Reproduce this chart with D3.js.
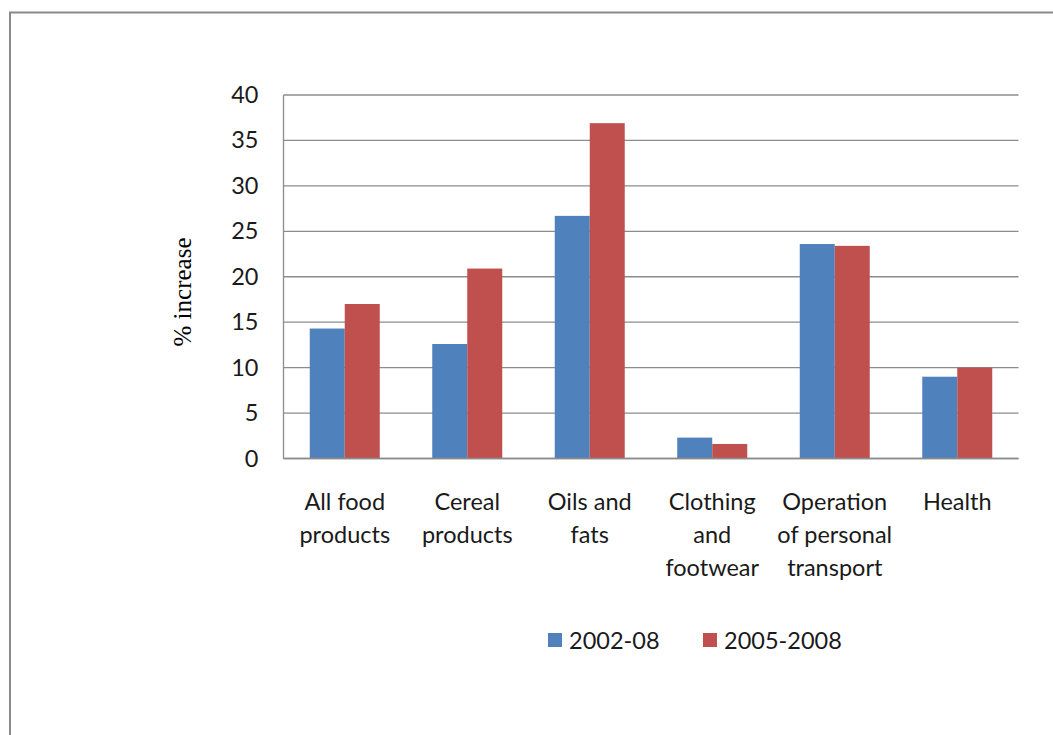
<!DOCTYPE html>
<html>
<head>
<meta charset="utf-8">
<script src="https://cdn.jsdelivr.net/npm/d3@7"></script>
<style>
  html, body { margin: 0; padding: 0; background: #fff; }
  svg { display: block; }
</style>
</head>
<body>
<svg id="chart" width="1053" height="735"></svg>
<script>
// Percentage price increase by expenditure group
const categories = [
  ["All food", "products"],
  ["Cereal", "products"],
  ["Oils and", "fats"],
  ["Clothing", "and", "footwear"],
  ["Operation", "of personal", "transport"],
  ["Health"]
];
const seriesNames = ["2002-08", "2005-2008"];
const values2002to08 = [14.3, 12.6, 26.7, 2.3, 23.6, 9.0];
const values2005to08 = [17.0, 20.9, 36.9, 1.6, 23.4, 10.0];
const yTicks = [0, 5, 10, 15, 20, 25, 30, 35, 40];
const colors = ["#4f81bd", "#c0504d"];

const svg = d3.select("#chart");
const font = "Lato, 'Open Sans', sans-serif";
const fontSize = 23.5;

// Outer frame (top and left edges)
svg.append("path")
  .attr("d", "M10,735 L10,12.5 L1053,12.5")
  .attr("fill", "none")
  .attr("stroke", "#8a8a8a")
  .attr("stroke-width", 2);

const plot = { left: 283.5, right: 1018.5, top: 95, bottom: 458.5 };

const x = d3.scaleBand()
  .domain(d3.range(categories.length))
  .range([plot.left, plot.right])
  .paddingInner(0)
  .paddingOuter(0);

const groupWidth = x.bandwidth();
const barWidth = groupWidth / 3.5;

const y = d3.scaleLinear().domain([0, 40]).range([plot.bottom, plot.top]);

// Gridlines
svg.append("g")
  .selectAll("line")
  .data(yTicks)
  .join("line")
  .attr("x1", plot.left)
  .attr("x2", plot.right)
  .attr("y1", d => y(d))
  .attr("y2", d => y(d))
  .attr("stroke", "#8c8c8c")
  .attr("stroke-width", 1.3);

// Left axis line
svg.append("line")
  .attr("x1", plot.left).attr("x2", plot.left)
  .attr("y1", plot.top).attr("y2", plot.bottom)
  .attr("stroke", "#8c8c8c").attr("stroke-width", 1.3);

// Y tick labels via d3 axis
const yAxis = d3.axisLeft(y).tickValues(yTicks).tickSize(0).tickPadding(25);
const yg = svg.append("g").attr("transform", `translate(${plot.left},0)`).call(yAxis);
yg.select(".domain").remove();
yg.selectAll("text")
  .attr("font-family", font)
  .attr("font-size", fontSize)
  .attr("fill", "#1a1a1a");

// Bars
const allSeries = [values2002to08, values2005to08];
allSeries.forEach((vals, si) => {
  svg.append("g")
    .selectAll("rect")
    .data(vals)
    .join("rect")
    .attr("x", (d, i) => x(i) + barWidth * 0.75 + si * barWidth)
    .attr("y", d => y(d))
    .attr("width", barWidth)
    .attr("height", d => y(0) - y(d))
    .attr("fill", colors[si]);
});

// Bottom axis line
svg.append("line")
  .attr("x1", plot.left).attr("x2", plot.right)
  .attr("y1", plot.bottom).attr("y2", plot.bottom)
  .attr("stroke", "#8c8c8c").attr("stroke-width", 1.5);

// Category labels
const catG = svg.append("g");
categories.forEach((lines, i) => {
  const t = catG.append("text")
    .attr("x", x(i) + groupWidth / 2)
    .attr("y", 510)
    .attr("text-anchor", "middle")
    .attr("font-family", font)
    .attr("font-size", fontSize)
    .attr("fill", "#1a1a1a");
  lines.forEach((ln, j) => {
    t.append("tspan")
      .attr("x", x(i) + groupWidth / 2)
      .attr("dy", j === 0 ? 0 : 33)
      .text(ln);
  });
});

// Y axis title
svg.append("text")
  .attr("transform", "translate(191,292) rotate(-90)")
  .attr("text-anchor", "middle")
  .attr("font-family", "'Liberation Serif', 'DejaVu Serif', serif")
  .attr("font-size", 25)
  .attr("fill", "#000")
  .text("% increase");

// Legend
const legend = [
  { name: seriesNames[0], color: colors[0], x: 548 },
  { name: seriesNames[1], color: colors[1], x: 703 }
];
const lg = svg.append("g");
legend.forEach(d => {
  lg.append("rect")
    .attr("x", d.x).attr("y", 633)
    .attr("width", 14).attr("height", 14)
    .attr("fill", d.color);
  lg.append("text")
    .attr("x", d.x + 21).attr("y", 649)
    .attr("font-family", font)
    .attr("font-size", fontSize)
    .attr("fill", "#1a1a1a")
    .text(d.name);
});
</script>
</body>
</html>
